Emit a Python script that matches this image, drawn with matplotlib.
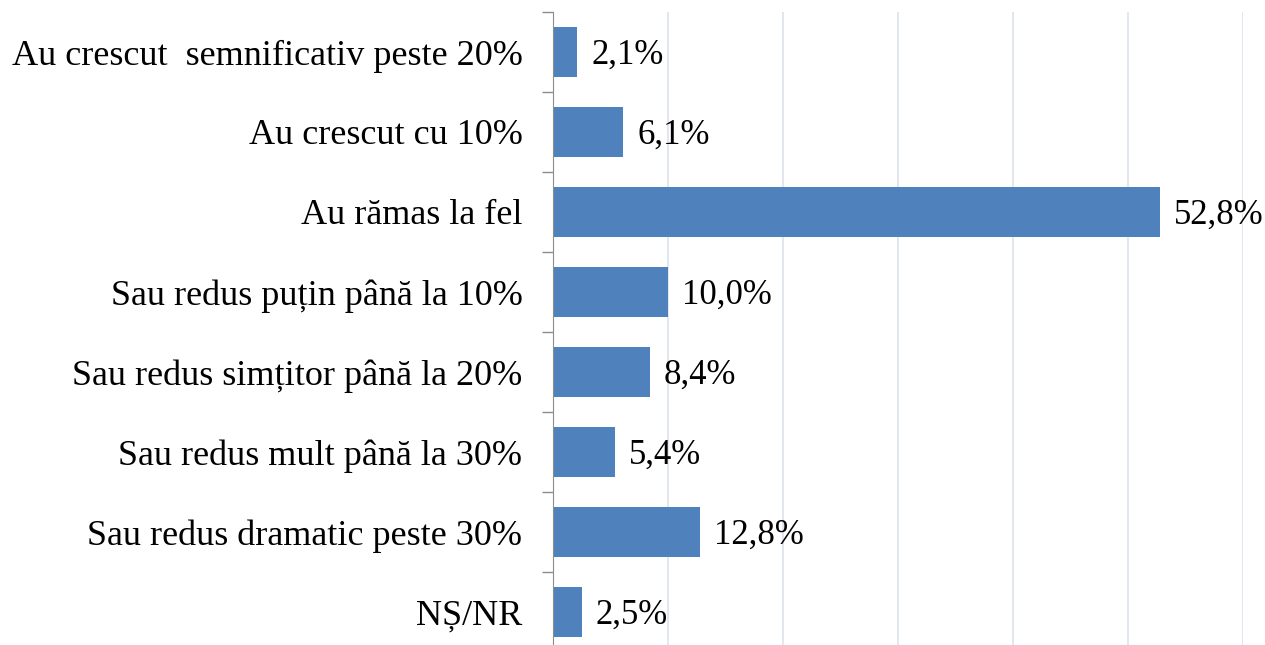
import matplotlib
matplotlib.use("Agg")
import matplotlib.pyplot as plt
from matplotlib.ticker import FixedLocator, MultipleLocator

categories = [
    "Au crescut  semnificativ peste 20%",
    "Au crescut cu 10%",
    "Au rămas la fel",
    "Sau redus puțin până la 10%",
    "Sau redus simțitor până la 20%",
    "Sau redus mult până la 30%",
    "Sau redus dramatic peste 30%",
    "NȘ/NR",
]
values = [2.1, 6.1, 52.8, 10.0, 8.4, 5.4, 12.8, 2.5]
value_labels = ["2,1%", "6,1%", "52,8%", "10,0%", "8,4%", "5,4%", "12,8%", "2,5%"]

BAR_COLOR = "#4f81bd"
GRID_COLOR = "#dde3ec"
AXIS_COLOR = "#8c8c8c"

plt.rcParams["font.family"] = ["Liberation Serif", "DejaVu Serif"]

fig = plt.figure(figsize=(12.65, 6.45), dpi=100)
ax = fig.add_axes([553 / 1265, 1 - 652 / 645, (1243 - 553) / 1265, 640 / 645])

pos = list(range(len(categories)))
ax.barh(pos, values, height=0.625, color=BAR_COLOR, zorder=3)

# value labels just past the end of each bar
for y, v, txt in zip(pos, values, value_labels):
    ax.annotate(txt, (v, y), xytext=(10, -2), textcoords="offset points",
                va="center", ha="left", fontsize=25, color="black")

ax.set_xlim(0, 60)
ax.set_ylim(len(categories) - 0.5, -0.5)
ax.xaxis.set_major_locator(MultipleLocator(10))
ax.grid(axis="x", color=GRID_COLOR, linewidth=1.2, zorder=0)
ax.tick_params(axis="x", length=0, labelbottom=False)

ax.set_yticks(pos)
ax.set_yticklabels(categories, fontsize=26)
# short tick marks sit between the categories, not on them
ax.yaxis.set_minor_locator(FixedLocator([p - 0.5 for p in pos] + [len(pos) - 0.5]))
ax.tick_params(axis="y", which="major", length=0, pad=22)
ax.tick_params(axis="y", which="minor", length=8, color=AXIS_COLOR, width=1)

for side in ("top", "right", "bottom"):
    ax.spines[side].set_visible(False)
ax.spines["left"].set_color(AXIS_COLOR)
ax.spines["left"].set_zorder(4)

fig.savefig("out.png", dpi=100)
